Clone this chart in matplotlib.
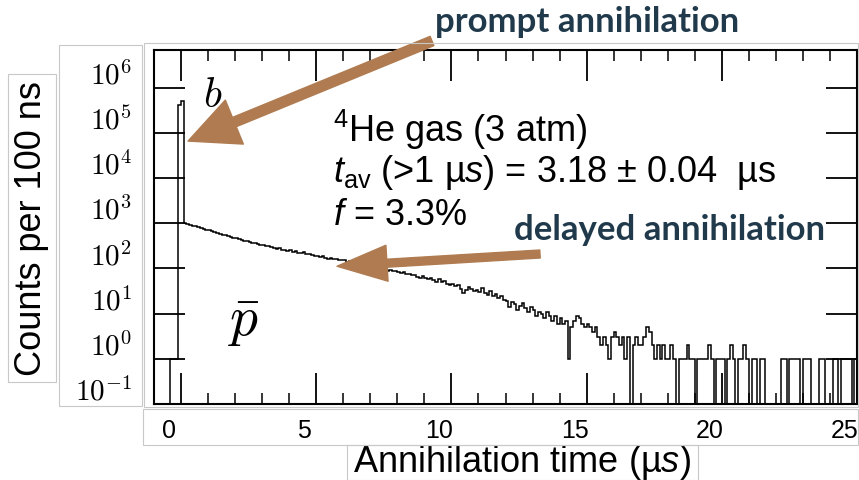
import numpy as np
import matplotlib.pyplot as plt
from matplotlib.patches import Rectangle, ArrowStyle
from matplotlib.transforms import ScaledTranslation
from matplotlib.ticker import FixedLocator, MultipleLocator, NullLocator, FuncFormatter

plt.rcParams['mathtext.fontset'] = 'cm'
plt.rcParams['mathtext.rm'] = 'Liberation Sans'
plt.rcParams['mathtext.it'] = 'Liberation Sans:italic'
plt.rcParams['font.family'] = ['Liberation Sans', 'DejaVu Sans']

# antiproton annihilation time spectrum, 100 ns bins from -1.0 us
bin_width = 0.1
t_first = -1.0
pre_counts = [0, 0, 0, 0, 0, 0, 1, 1, 1]          # -1.0 .. -0.2 us
prompt_counts = [4.2e5, 5.1e5]                     # -0.1 .. 0.1 us
delayed_counts = [                                 # 0.1 .. 25.0 us, one row per us
    [1000, 960, 920, 880, 850, 810, 780, 750, 720],
    [700, 670, 640, 610, 590, 560, 540, 515, 495, 480],
    [465, 450, 430, 415, 405, 390, 375, 360, 350, 335],
    [330, 315, 322, 298, 290, 276, 284, 262, 258, 249],
    [250, 236, 242, 224, 218, 226, 205, 212, 196, 192],
    [190, 181, 186, 170, 166, 172, 158, 161, 150, 153],
    [150, 139, 144, 132, 136, 128, 121, 126, 114, 118],
    [115, 108, 101, 109, 96, 99, 90, 94, 86, 88],
    [85, 79, 83, 74, 77, 70, 73, 66, 62, 68],
    [62, 58, 63, 55, 51, 57, 49, 53, 46, 44],
    [45, 41, 44, 36, 29, 33, 38, 35, 31, 34],
    [30, 37, 28, 26, 31, 24, 27, 22, 25, 20],
    [19, 14, 18, 16, 12, 15, 17, 13, 11, 14],
    [12, 9, 11, 10, 8, 11, 9, 7, 9, 6],
    [8, 6, 7, 1, 5, 7, 9, 8, 6, 5],
    [6, 5, 4, 5, 3, 2, 3, 2, 1, 3],
    [4, 3, 2, 3, 1, 3, 0, 2, 3, 2],
    [2, 3, 5, 4, 2, 1, 2, 1, 2, 1],
    [1, 2, 1, 0, 1, 1, 1, 2, 1, 1],
    [0, 1, 1, 1, 1, 2, 1, 0, 1, 1],
    [1, 0, 1, 2, 1, 0, 1, 1, 2, 1],
    [0, 1, 1, 0, 1, 1, 0, 0, 0, 0],
    [0, 0, 1, 1, 0, 1, 1, 1, 1, 0],
    [1, 1, 1, 0, 0, 0, 1, 1, 0, 0],
    [0, 1, 1, 0, 1, 1, 1, 1, 0, 1],
]

x_ticks = [0, 5, 10, 15, 20, 25]
y_decades = [-1, 0, 1, 2, 3, 4, 5, 6]

counts = np.array(pre_counts + prompt_counts + sum(delayed_counts, []), float)
edges = np.round(t_first + bin_width * np.arange(len(counts) + 1), 1)

W, H = 859, 481
fig = plt.figure(figsize=(W / 100, H / 100), dpi=100)
ax = fig.add_axes([154 / W, 1 - 405 / H, (857 - 154) / W, (405 - 51) / H])

ax.stairs(counts, edges, baseline=None, color='black', lw=1.1)
ax.set_yscale('log')
ax.set_xlim(-1.0, 25.0)
ax.set_ylim(0.1, 10 ** 6.835)

for s in ax.spines.values():
    s.set_linewidth(1.5)

ax.xaxis.set_major_locator(FixedLocator(x_ticks))
ax.xaxis.set_minor_locator(MultipleLocator(1))
ax.yaxis.set_major_locator(FixedLocator([10.0 ** d for d in y_decades]))
ax.yaxis.set_minor_locator(NullLocator())
ax.yaxis.set_major_formatter(FuncFormatter(lambda v, p: r'$10^{%d}$' % round(np.log10(v))))
ax.tick_params(which='major', direction='in', length=22, width=1.3,
               top=True, right=True)
ax.tick_params(which='minor', direction='in', length=8, width=1.1, top=True)
ax.tick_params(axis='x', labelsize=18, pad=10)
ax.tick_params(axis='y', labelsize=21, pad=16)

for lab in ax.get_yticklabels():
    lab.set_transform(lab.get_transform() + ScaledTranslation(0, 0.16, fig.dpi_scale_trans))
for lab in ax.get_xticklabels():
    lab.set_transform(lab.get_transform() + ScaledTranslation(-0.12, 0, fig.dpi_scale_trans))

ax.set_ylabel('Counts per 100 ns', fontsize=26, va='center')
ax.yaxis.set_label_coords((32 - 154) / 703, (405 - 229) / 354)
ax.set_xlabel('Annihilation time (µ$s$)', fontsize=26, va='center',
              math_fontfamily='custom')
ax.xaxis.set_label_coords((522 - 154) / 703, (405 - 463) / 354)

# in-plot labels
ax.text(0.084, 0.872, r'$b$', transform=ax.transAxes, fontsize=30,
        ha='center', va='center')
ax.text(0.127, 0.232, r'$\bar{p}$', transform=ax.transAxes, fontsize=40,
        ha='center', va='center')
ax.text(0.2546, 0.777, r'$^{4}$He gas (3 atm)', transform=ax.transAxes,
        fontsize=26, va='center', math_fontfamily='custom')
ax.text(0.2546, 0.658, r'$t_{\mathrm{av}}$ (>1 µ$s$) = 3.18 ± 0.04  µs',
        transform=ax.transAxes, fontsize=26, va='center', math_fontfamily='custom')
ax.text(0.2546, 0.534, r'$f$ = 3.3%', transform=ax.transAxes, fontsize=26,
        va='center', math_fontfamily='custom')

# framing boxes around the pasted pieces
def box(x0, y0, x1, y1):
    fig.add_artist(Rectangle((x0 / W, 1 - y1 / H), (x1 - x0) / W, (y1 - y0) / H,
                             transform=fig.transFigure, fill=False,
                             ec='#c8c8c8', lw=0.8))

box(8, 75, 56, 383)
box(59, 46, 142, 407)
box(144, 44, 858, 408)
box(143, 410, 858, 446)
box(347, 446, 698, 481)

# annotations
brown = '#b07b50'
dark = '#203a4c'
fig.text(587 / W, 1 - 22 / H, 'prompt annihilation', fontsize=25,
         family='Lato', weight='bold', color=dark, ha='center', va='center')
fig.text(670 / W, 1 - 230 / H, 'delayed annihilation', fontsize=25,
         family='Lato', weight='bold', color=dark, ha='center', va='center')

ax.annotate('', xy=(0.26, 6.6e4), xycoords='data',
            xytext=(432, H - 42), textcoords='figure pixels',
            arrowprops=dict(arrowstyle=ArrowStyle.Simple(head_length=1.0, head_width=0.95,
                                                         tail_width=0.2),
                            mutation_scale=36, color=brown, shrinkA=0, shrinkB=0),
            annotation_clip=False)
ax.annotate('', xy=(5.77, 112), xycoords='data',
            xytext=(540, H - 255), textcoords='figure pixels',
            arrowprops=dict(arrowstyle=ArrowStyle.Simple(head_length=1.0, head_width=0.72,
                                                         tail_width=0.16),
                            mutation_scale=36, color=brown, shrinkA=0, shrinkB=0),
            annotation_clip=False)

fig.savefig('out.png', dpi=100)
